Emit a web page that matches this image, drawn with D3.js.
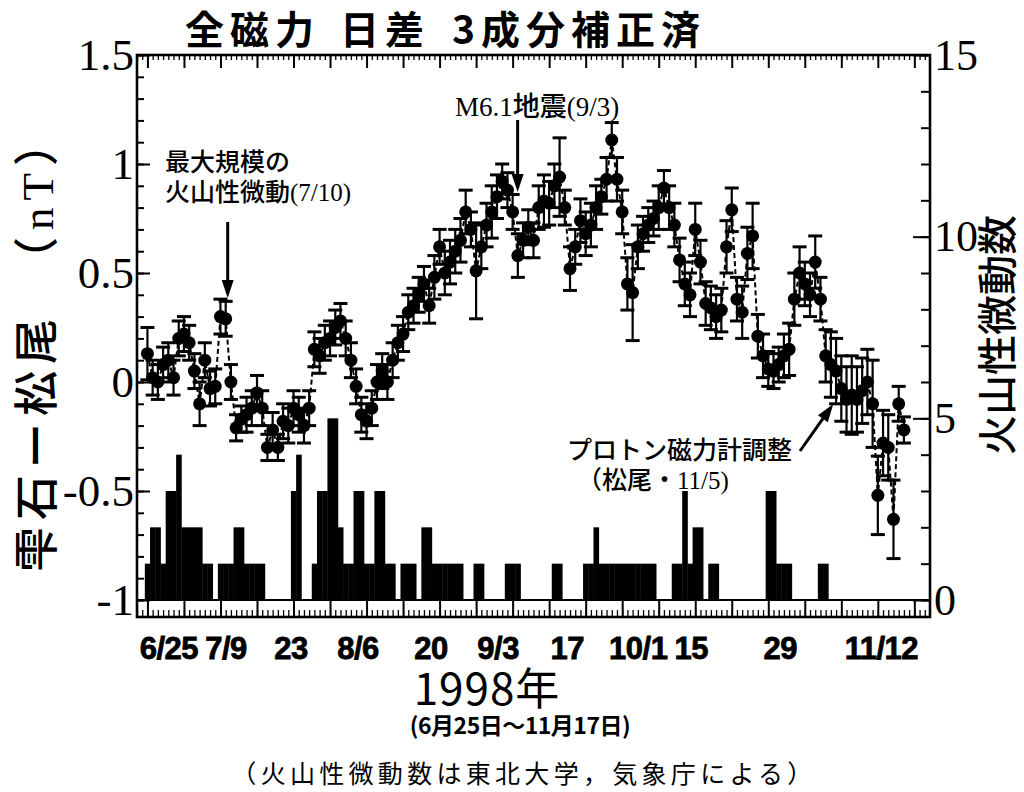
<!DOCTYPE html>
<html><head><meta charset="utf-8">
<script src="https://cdn.jsdelivr.net/npm/d3@7"></script>
<style>body{margin:0;background:#fff}</style>
</head><body>
<svg id="chart" width="1024" height="792"></svg>
<script>
// Daily series starting 1998-06-25 (index 0) through 1998-11-17 (index 145)
const startDate = new Date(1998, 5, 25);

// Shizukuishi - Matsuo total-force daily difference (nT); null = no value
const magDiff = [
  0.13, 0.02, 0.00, 0.08, 0.10, 0.02, 0.20, 0.22, 0.18, 0.05,
 -0.10, 0.10,-0.03,-0.02, 0.30, 0.29, 0.00,-0.21,-0.17,-0.15,
 -0.12,-0.05,-0.12,-0.30,-0.22,-0.30,-0.18,-0.20,-0.12,-0.15,
 -0.20,-0.12, 0.15, 0.12, 0.18, 0.20, 0.25, 0.28, 0.20, 0.10,
 -0.02,-0.15,-0.18,-0.12, 0.00, 0.05, 0.00, 0.10, 0.18, 0.22,
  0.32, 0.35, 0.40, 0.45, 0.35, 0.48, 0.62, 0.50, 0.55, 0.60,
  0.65, 0.78, 0.70, 0.51, 0.62, 0.72, 0.78, 0.85, 0.92, 0.88,
  0.78, 0.58, 0.65, 0.71, 0.65, 0.80, 0.83, 0.82, 0.90, 0.94,
  0.80, 0.52, 0.62, 0.74, 0.68, 0.72, 0.80, 0.85, 0.93, 1.11,
  0.93, 0.78, 0.45, 0.41, 0.62, 0.68, 0.72, 0.75, 0.80, 0.89,
  0.80, 0.72, 0.56, 0.45, 0.40, 0.70, 0.55, 0.36, 0.34, 0.30,
  0.33, 0.62, 0.79, 0.38, 0.32, 0.59, 0.67, 0.21, 0.12, 0.06,
  0.05, 0.08, 0.12, 0.15, 0.38, 0.50, 0.45, 0.40, 0.55, 0.38,
  0.12, 0.08, 0.05,-0.03,-0.08,-0.06,-0.08,-0.04, 0.00,-0.10,
 -0.52,-0.28,-0.30,-0.63,-0.10,-0.22
];

// One-sigma error of each daily difference (nT)
const magErr = [
  0.12, 0.08, 0.08, 0.08, 0.08, 0.08, 0.08, 0.08, 0.08, 0.08,
  0.10, 0.08, 0.08, 0.08, 0.08, 0.08, 0.08, 0.06, 0.06, 0.08,
  0.08, 0.08, 0.08, 0.06, 0.08, 0.06, 0.08, 0.08, 0.08, 0.08,
  0.08, 0.08, 0.08, 0.08, 0.08, 0.08, 0.08, 0.08, 0.08, 0.08,
  0.08, 0.08, 0.08, 0.08, 0.08, 0.08, 0.08, 0.08, 0.08, 0.08,
  0.08, 0.08, 0.08, 0.08, 0.08, 0.10, 0.08, 0.10, 0.10, 0.10,
  0.10, 0.10, 0.08, 0.22, 0.10, 0.10, 0.12, 0.10, 0.08, 0.08,
  0.08, 0.10, 0.08, 0.08, 0.08, 0.10, 0.12, 0.10, 0.10, 0.18,
  0.08, 0.10, 0.08, 0.10, 0.10, 0.10, 0.10, 0.08, 0.10, 0.08,
  0.10, 0.10, 0.12, 0.22, 0.10, 0.08, 0.08, 0.08, 0.10, 0.08,
  0.10, 0.10, 0.10, 0.10, 0.10, 0.12, 0.10, 0.10, 0.10, 0.10,
  0.10, 0.12, 0.10, 0.10, 0.12, 0.12, 0.15, 0.10, 0.10, 0.08,
  0.08, 0.08, 0.10, 0.12, 0.12, 0.12, 0.10, 0.10, 0.12, 0.10,
  0.12, 0.15, 0.15, 0.15, 0.15, 0.18, 0.15, 0.15, 0.15, 0.20,
  0.18, 0.15, 0.15, 0.18, 0.08, 0.06
];

// Daily count of volcanic tremors
const tremorCount = [
  1,2,2,1,3,3,4,2,2,2, 2,1,1,0,1,1,1,2,2,1, 1,1,1,0,0,0,0,0,3,4,
  0,0,1,3,3,5,5,2,1,1, 3,3,1,1,3,3,1,1,0,1, 1,1,0,2,2,1,1,1,1,1,
  1,0,0,1,1,0,0,0,0,1, 1,1,0,0,0,0,0,0,1,1, 0,0,0,0,1,1,2,1,1,1,
  1,1,1,1,1,1,1,1,0,0, 0,1,1,3,1,2,2,0,1,1, 0,0,0,0,0,0,0,0,0,3,
  3,1,1,1,0,0,0,0,0,1, 1,0,0,0,0,0,0,0,0,0, 0,0,0,0,0,0
];

const leftTicks = [-1, -0.5, 0, 0.5, 1, 1.5];
const leftTickLabels = ["-1", "-0.5", "0", "0.5", "1", "1.5"];
const rightTicks = [0, 5, 10, 15];
const xTickLabels = ["6/25", "7/9", "23", "8/6", "20", "9/3", "17", "10/1", "15", "29", "11/12"];

// ---- layout ----
const L = 137, R = 930, T = 55, B = 600, S = 617;
const svg = d3.select("#chart");
const dayAt = i => d3.timeDay.offset(startDate, i);

const x = d3.scaleTime()
  .domain([new Date(1998, 5, 23), new Date(1998, 10, 22)])
  .range([L, R]);
const yL = d3.scaleLinear().domain([-1, 1.5]).range([B, T]);
const yR = d3.scaleLinear().domain([0, 15]).range([B, T]);
const dayW = x(dayAt(1)) - x(dayAt(0));

const serif = "'Liberation Serif', 'Times New Roman', serif";
const gothic = "'Noto Sans CJK JP', 'Noto Sans', sans-serif";
const sansBold = "'Liberation Sans', Arial, sans-serif";

// ---- tremor bars ----
svg.append("g").selectAll("rect")
  .data(tremorCount.map((c, i) => ({ c, i })).filter(d => d.c > 0))
  .join("rect")
  .attr("x", d => x(dayAt(d.i)) - dayW / 2)
  .attr("width", dayW + 0.4)
  .attr("y", d => yR(d.c))
  .attr("height", d => B - yR(d.c))
  .attr("fill", "#000");

// ---- magnetic differences ----
const pts = magDiff.map((v, i) => ({ v, e: magErr[i], d: dayAt(i) })).filter(p => p.v !== null);

svg.append("path")
  .datum(pts)
  .attr("fill", "none")
  .attr("stroke", "#000")
  .attr("stroke-width", 2)
  .attr("stroke-dasharray", "5,3")
  .attr("d", d3.line().x(p => x(p.d)).y(p => yL(p.v)));

const eb = svg.append("g").attr("stroke", "#000").attr("stroke-width", 2.2);
eb.selectAll("line.v").data(pts).join("line").attr("class", "v")
  .attr("x1", p => x(p.d)).attr("x2", p => x(p.d))
  .attr("y1", p => yL(p.v - p.e)).attr("y2", p => yL(p.v + p.e));
eb.selectAll("line.t").data(pts).join("line").attr("class", "t")
  .attr("x1", p => x(p.d) - 7).attr("x2", p => x(p.d) + 7)
  .attr("y1", p => yL(p.v + p.e)).attr("y2", p => yL(p.v + p.e))
  .attr("stroke-width", 3);
eb.selectAll("line.b").data(pts).join("line").attr("class", "b")
  .attr("x1", p => x(p.d) - 7).attr("x2", p => x(p.d) + 7)
  .attr("y1", p => yL(p.v - p.e)).attr("y2", p => yL(p.v - p.e))
  .attr("stroke-width", 3);

svg.append("g").selectAll("circle").data(pts).join("circle")
  .attr("cx", p => x(p.d)).attr("cy", p => yL(p.v)).attr("r", 6.5)
  .attr("fill", "#000");

// ---- axes ----
function clean(g) { g.select(".domain").remove(); g.selectAll("line").attr("stroke", "#000").attr("stroke-width", 2); }

// left axis: minor every 0.1, major every 0.5 (ticks point inward)
svg.append("g").attr("transform", `translate(${L},0)`)
  .call(d3.axisLeft(yL).tickValues(d3.range(-10, 16).map(k => k / 10)).tickSize(-7).tickFormat(""))
  .call(clean);
svg.append("g").attr("transform", `translate(${L},0)`)
  .call(d3.axisLeft(yL).tickValues(leftTicks).tickSizeInner(-13).tickSizeOuter(0).tickPadding(3)
    .tickFormat((d, i) => leftTickLabels[i]))
  .call(clean)
  .call(g => g.selectAll("text").attr("font-family", serif).attr("font-size", 45).attr("fill", "#000"));

// right axis: minor every 1, major every 5
svg.append("g").attr("transform", `translate(${R},0)`)
  .call(d3.axisRight(yR).tickValues(d3.range(0, 16)).tickSize(-9).tickFormat(""))
  .call(clean);
svg.append("g").attr("transform", `translate(${R},0)`)
  .call(d3.axisRight(yR).tickValues(rightTicks).tickSizeInner(-17).tickSizeOuter(0).tickPadding(4))
  .call(clean)
  .call(g => g.selectAll("text").attr("font-family", serif).attr("font-size", 44).attr("fill", "#000"));

// top axis: daily and weekly ticks hanging down
const days = d3.timeDay.range(new Date(1998, 5, 23), new Date(1998, 10, 22));
const weeks = d3.timeDay.range(startDate, new Date(1998, 10, 22), 1).filter((d, i) => i % 7 === 0);
svg.append("g").attr("transform", `translate(0,${T})`)
  .call(d3.axisBottom(x).tickValues(days).tickSize(5).tickFormat(""))
  .call(clean).call(g => g.selectAll("line").attr("stroke-width", 1.3));
svg.append("g").attr("transform", `translate(0,${T})`)
  .call(d3.axisBottom(x).tickValues(weeks).tickSize(13).tickFormat(""))
  .call(clean);

// bottom tick strip
svg.append("g").attr("transform", `translate(0,${S})`)
  .call(d3.axisTop(x).tickValues(days).tickSize(7).tickFormat(""))
  .call(clean).call(g => g.selectAll("line").attr("stroke-width", 1.3));
svg.append("g").attr("transform", `translate(0,${S})`)
  .call(d3.axisTop(x).tickValues(weeks).tickSize(S - B).tickFormat(""))
  .call(clean);

// date labels every two weeks (hand-lettered spacing)
const labelNudge = [21, 5, -3, -9, -9, -15, -19, -21, -41, -25, 3];
const fortnights = weeks.filter((d, i) => i % 2 === 0).slice(0, xTickLabels.length);
svg.append("g").attr("transform", `translate(0,${S})`)
  .call(d3.axisBottom(x).tickValues(fortnights).tickSize(0).tickPadding(20)
    .tickFormat((d, i) => xTickLabels[i]))
  .call(g => g.select(".domain").remove())
  .call(g => g.selectAll("text")
    .attr("dx", (d, i) => labelNudge[i])
    .attr("font-family", sansBold).attr("font-weight", "bold")
    .attr("font-size", 31).attr("letter-spacing", -0.5)
    .attr("fill", "#000").attr("stroke", "#000").attr("stroke-width", 0.8));

// frame
svg.append("rect").attr("x", L).attr("y", T).attr("width", R - L).attr("height", S - T)
  .attr("fill", "none").attr("stroke", "#000").attr("stroke-width", 2.6);
svg.append("line").attr("x1", L).attr("x2", R).attr("y1", B).attr("y2", B)
  .attr("stroke", "#000").attr("stroke-width", 2);

// ---- titles ----
svg.append("text").attr("x", 185).attr("y", 44)
  .attr("font-family", gothic).attr("font-weight", 600).attr("font-size", 39).attr("letter-spacing", 6)
  .call(t => {
    t.append("tspan").text("全磁力");
    t.append("tspan").attr("dx", 20).text("日差");
    t.append("tspan").attr("dx", 22).text("3成分補正済");
  });

svg.append("text").attr("transform", "translate(53,572) rotate(-90)")
  .attr("font-family", gothic).attr("font-weight", 500).attr("font-size", 45).attr("letter-spacing", 7)
  .call(t => {
    t.append("tspan").text("雫石ー松尾");
    t.append("tspan").attr("dx", 30).text("（");
    t.append("tspan").attr("font-family", serif).text("nT");
    t.append("tspan").text("）");
  });

svg.append("text").attr("transform", "translate(1012,335) rotate(-90)").attr("text-anchor", "middle")
  .attr("font-family", gothic).attr("font-weight", 500).attr("font-size", 40)
  .text("火山性微動数");

svg.append("text").attr("x", 487).attr("y", 705).attr("text-anchor", "middle")
  .attr("font-family", gothic).attr("font-size", 44).attr("letter-spacing", 1).text("1998年");
svg.append("text").attr("x", 520).attr("y", 734).attr("text-anchor", "middle")
  .attr("font-family", gothic).attr("font-weight", 700).attr("font-size", 23).attr("letter-spacing", -0.5)
  .text("(6月25日～11月17日)");
svg.append("text").attr("x", 524).attr("y", 783).attr("text-anchor", "middle")
  .attr("font-family", gothic).attr("font-size", 25).attr("letter-spacing", 4.3)
  .text("（火山性微動数は東北大学，気象庁による）");

// ---- annotations ----
function arrow(x1, y1, x2, y2) {
  const a = Math.atan2(y2 - y1, x2 - x1), len = 18, w = 6;
  const bx = x2 - len * Math.cos(a), by = y2 - len * Math.sin(a);
  svg.append("line").attr("x1", x1).attr("y1", y1).attr("x2", bx).attr("y2", by)
    .attr("stroke", "#000").attr("stroke-width", 3);
  svg.append("path").attr("fill", "#000").attr("d",
    `M${x2},${y2}L${bx + w * Math.sin(a)},${by - w * Math.cos(a)}L${bx - w * Math.sin(a)},${by + w * Math.cos(a)}Z`);
}

const ann = svg.append("g").attr("font-family", gothic).attr("font-weight", 500).attr("font-size", 25).attr("fill", "#000");
ann.append("text").attr("x", 165).attr("y", 171).text("最大規模の");
ann.append("text").attr("x", 165).attr("y", 201)
  .call(t => { t.append("tspan").text("火山性微動"); t.append("tspan").attr("font-family", serif).attr("font-size", 25).text("(7/10)"); });
arrow(x(dayAt(15)) + 2, 222, x(dayAt(15)) + 2, 298);

ann.append("text").attr("x", 455).attr("y", 116)
  .call(t => { t.append("tspan").attr("font-family", serif).attr("font-size", 27).text("M6.1");
    t.append("tspan").attr("font-size", 27).text("地震"); t.append("tspan").attr("font-family", serif).attr("font-size", 27).text("(9/3)"); });
arrow(x(dayAt(70)) + 5, 120, x(dayAt(70)) + 5, 192);

ann.append("text").attr("x", 567).attr("y", 459).text("プロトン磁力計調整");
ann.append("text").attr("x", 577).attr("y", 489)
  .call(t => { t.append("tspan").text("（松尾・"); t.append("tspan").attr("font-family", serif).attr("font-size", 25).text("11/5)"); });
arrow(800, 451, x(dayAt(133)) - 8, 404);
</script>
</body></html>
